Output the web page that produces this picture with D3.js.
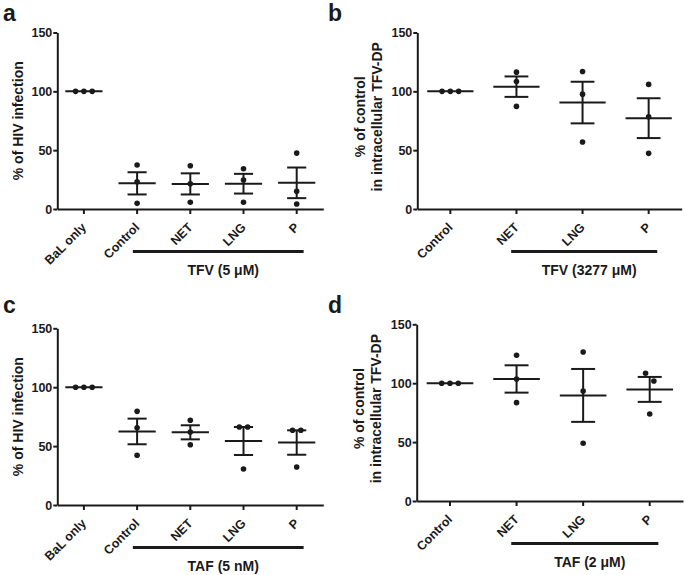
<!DOCTYPE html>
<html><head><meta charset="utf-8">
<script src="https://cdn.jsdelivr.net/npm/d3@7"></script>
<style>
body{margin:0;background:#fff}
text{font-family:"Liberation Sans",Arial,Helvetica,sans-serif;font-weight:bold;fill:#1a1a1a}
</style>
</head><body><svg id="chart" width="685" height="575"></svg>
<script>
// ---------- data ----------
const categoriesInfection = ["BaL only", "Control", "NET", "LNG", "P"];
const categoriesTfvdp = ["Control", "NET", "LNG", "P"];
const yTicks = [0, 50, 100, 150];

// each inner array = the 3 replicate points of one category
const valuesA = [[100, 100, 100], [37.4, 23.2, 4.8], [36.8, 21.5, 5.7], [34.2, 24.6, 5.7], [47.5, 15.0, 4.2]];
const valuesB = [[100, 100, 100], [116.3, 108.4, 87.2], [116.9, 97.6, 56.9], [105.9, 78.4, 47.3]];
const valuesC = [[100, 100, 100], [79.5, 65.6, 42.2], [71.9, 62.0, 51.2], [66.2, 66.2, 30.6], [63.4, 63.4, 32.3]];
const valuesD = [[100, 100, 100], [123.7, 103.6, 83.5], [126.5, 93.4, 49.0], [108.4, 101.9, 73.9]];

const groupLabels = ["TFV (5 \u03bcM)", "TFV (3277 \u03bcM)", "TAF (5 nM)", "TAF (2 \u03bcM)"];
const yLabelInfection = ["% of HIV infection"];
const yLabelTfvdp = ["% of control", "in intracellular TFV-DP"];
const panelLetters = ["a", "b", "c", "d"];

// ---------- layout ----------
const panels = [
  {letter: panelLetters[0], cats: categoriesInfection, values: valuesA, group: groupLabels[0], ylab: yLabelInfection,
   x0: 57.3, x1: 323.3, yTop: 32.5, yBot: 209, lx: 3, ly: 21},
  {letter: panelLetters[1], cats: categoriesTfvdp, values: valuesB, group: groupLabels[1], ylab: yLabelTfvdp,
   x0: 417.3, x1: 681.7, yTop: 32.5, yBot: 209, lx: 328, ly: 21},
  {letter: panelLetters[2], cats: categoriesInfection, values: valuesC, group: groupLabels[2], ylab: yLabelInfection,
   x0: 57.3, x1: 323.3, yTop: 328.3, yBot: 505, lx: 3, ly: 313},
  {letter: panelLetters[3], cats: categoriesTfvdp, values: valuesD, group: groupLabels[3], ylab: yLabelTfvdp,
   x0: 416.7, x1: 683, yTop: 324.3, yBot: 501, lx: 328, ly: 313}
];

const INK = "#1a1a1a";
const svg = d3.select("#chart");

panels.forEach(p => {
  const g = svg.append("g");
  const x = d3.scaleBand().domain(p.cats).range([p.x0, p.x1]);
  const y = d3.scaleLinear().domain([0, 150]).range([p.yBot, p.yTop]);
  const bw = x.bandwidth();

  // panel letter
  g.append("text").attr("x", p.lx).attr("y", p.ly).style("font-size", "23px").text(p.letter);

  // y axis
  const ya = g.append("g").attr("transform", `translate(${p.x0},0)`)
    .call(d3.axisLeft(y).tickValues(yTicks).tickSize(4).tickSizeOuter(0).tickPadding(1));
  ya.selectAll("path,line").attr("stroke", INK).attr("stroke-width", 2);
  ya.selectAll("text").style("font-size", "12.5px").attr("fill", INK).style("font-family", null);

  // x axis (ticks only; labels drawn separately, rotated)
  const xa = g.append("g").attr("transform", `translate(0,${p.yBot})`)
    .call(d3.axisBottom(x).tickSize(5).tickSizeOuter(0).tickFormat(""));
  xa.selectAll("path,line").attr("stroke", INK).attr("stroke-width", 2);

  g.append("g").selectAll("text").data(p.cats).join("text")
    .attr("text-anchor", "end")
    .attr("transform", d => `translate(${x(d) + bw / 2},${p.yBot + 16}) rotate(-45)`)
    .attr("dy", "0.35em")
    .style("font-size", "12.5px")
    .text(d => d);

  // y label
  const ylabX0 = p.ylab.length === 1 ? p.x0 - 34.3 : p.x0 - 52.3;
  const ylabShift = p.ylab.length === 1 ? 0 : -4;
  const yc = (p.yTop + p.yBot) / 2 + ylabShift;
  p.ylab.forEach((t, i) => {
    g.append("text")
      .attr("transform", `translate(${ylabX0 + i * 17},${yc}) rotate(-90)`)
      .attr("text-anchor", "middle")
      .style("font-size", "14px")
      .text(t);
  });

  // group bar and label (all categories except first)
  const gStart = x(p.cats[1]) + bw / 2 - 0.08 * bw;
  const gEnd = x(p.cats[p.cats.length - 1]) + bw / 2 + 0.13 * bw;
  g.append("line").attr("x1", gStart).attr("x2", gEnd)
    .attr("y1", p.yBot + 42.5).attr("y2", p.yBot + 42.5)
    .attr("stroke", INK).attr("stroke-width", 3);
  g.append("text").attr("x", (gStart + gEnd) / 2 + 5).attr("y", p.yBot + 66)
    .attr("text-anchor", "middle").style("font-size", "14px").text(p.group);

  // data: mean, SEM, points
  p.cats.forEach((c, ci) => {
    const vals = p.values[ci];
    const cx = x(c) + bw / 2;
    const m = d3.mean(vals);
    const sem = d3.deviation(vals) / Math.sqrt(vals.length);
    const mh = 0.35 * bw, ch = 0.18 * bw;
    g.append("line").attr("x1", cx - mh).attr("x2", cx + mh).attr("y1", y(m)).attr("y2", y(m))
      .attr("stroke", INK).attr("stroke-width", 2);
    if (sem > 0) {
      g.append("line").attr("x1", cx).attr("x2", cx).attr("y1", y(m + sem)).attr("y2", y(m - sem))
        .attr("stroke", INK).attr("stroke-width", 2);
      [m + sem, m - sem].forEach(v => {
        g.append("line").attr("x1", cx - ch).attr("x2", cx + ch).attr("y1", y(v)).attr("y2", y(v))
          .attr("stroke", INK).attr("stroke-width", 2);
      });
    }
    // spread points that would overlap (scatter-dot layout)
    const sorted = vals.slice().sort((a, b) => b - a);
    const clusters = [];
    sorted.forEach(v => {
      const last = clusters[clusters.length - 1];
      if (last && Math.abs(y(last[last.length - 1]) - y(v)) < 8.5) last.push(v);
      else clusters.push([v]);
    });
    const gap = 8.3;
    clusters.forEach(cl => {
      cl.forEach((v, k) => {
        const off = (k - (cl.length - 1) / 2) * gap;
        g.append("circle").attr("cx", cx + off).attr("cy", y(v)).attr("r", 2.8).attr("fill", INK);
      });
    });
  });
});
</script>
</body></html>
